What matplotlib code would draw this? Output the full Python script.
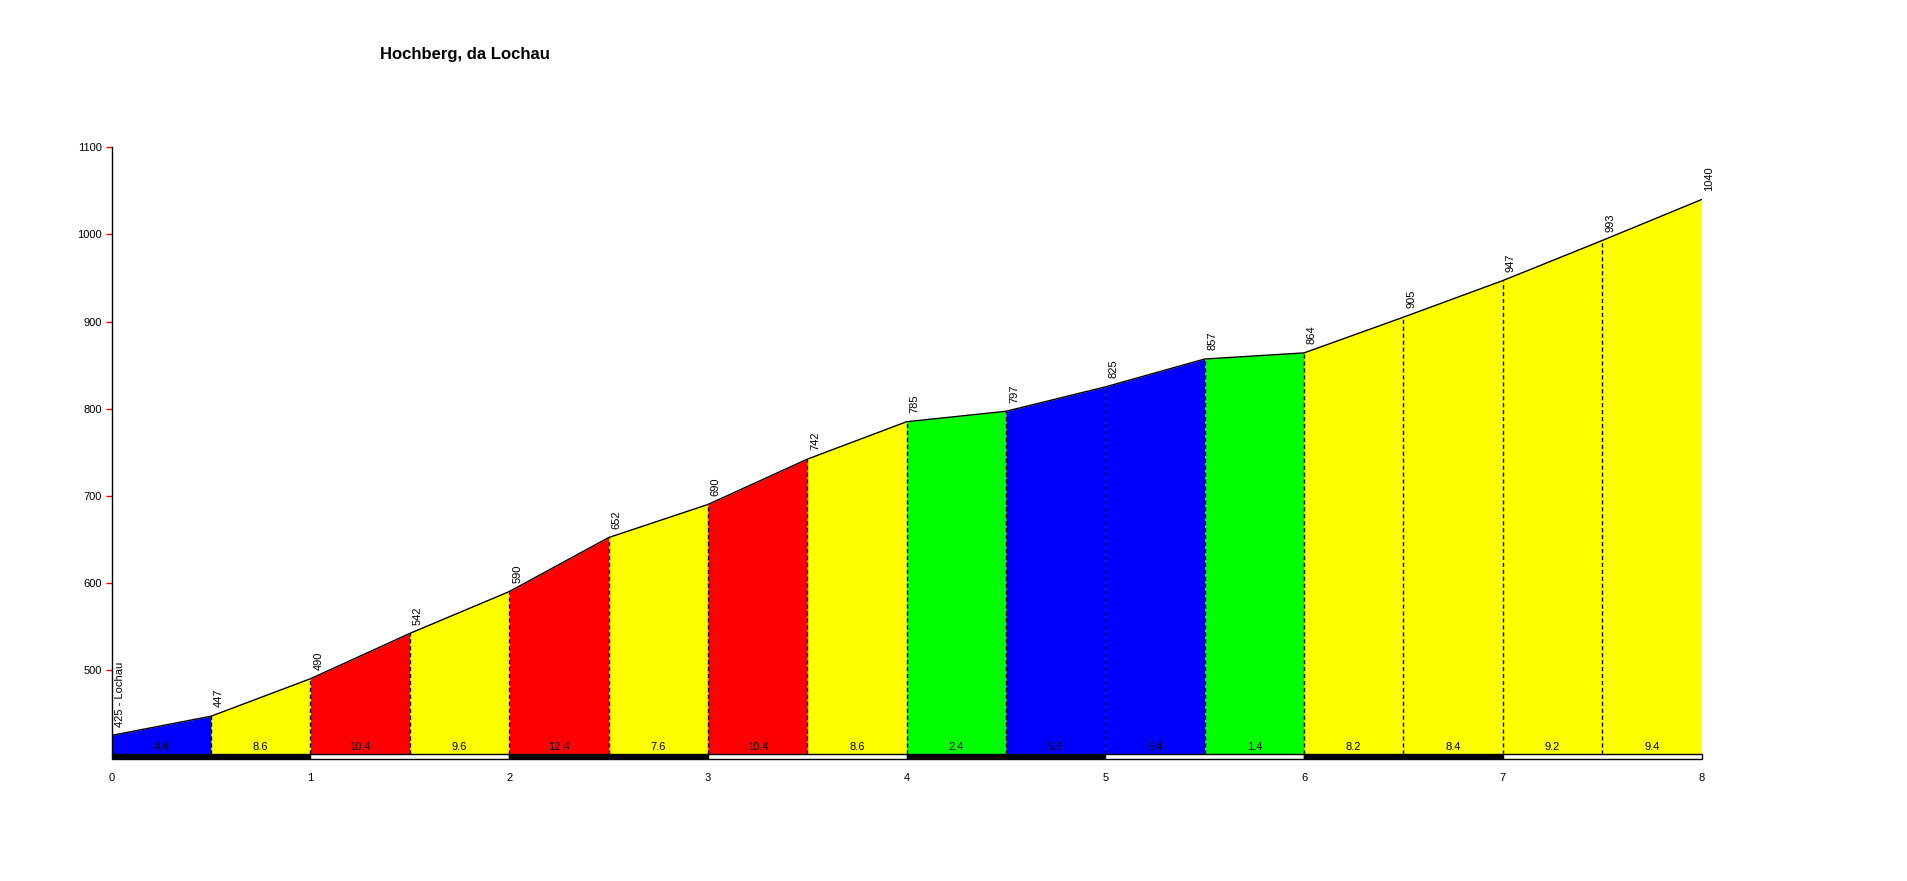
import numpy as np
import matplotlib.pyplot as plt
from matplotlib.patches import Rectangle

plt.rcParams['font.family'] = ['Liberation Sans', 'DejaVu Sans']

# dati del profilo
title = 'Hochberg, da Lochau'
km = [0, 0.5, 1, 1.5, 2, 2.5, 3, 3.5, 4, 4.5, 5, 5.5, 6, 6.5, 7, 7.5, 8]
quote = [425, 447, 490, 542, 590, 652, 690, 742, 785, 797, 825, 857, 864, 905, 947, 993, 1040]
pendenze = [4.4, 8.6, 10.4, 9.6, 12.4, 7.6, 10.4, 8.6, 2.4, 5.6, 6.4, 1.4, 8.2, 8.4, 9.2, 9.4]
colori = ['#0000ff', '#ffff00', '#ff0000', '#ffff00', '#ff0000', '#ffff00', '#ff0000', '#ffff00',
          '#00ff00', '#0000ff', '#0000ff', '#00ff00', '#ffff00', '#ffff00', '#ffff00', '#ffff00']
partenza = 'Lochau'

W, H = 1908, 881
fig = plt.figure(figsize=(W / 100, H / 100), dpi=100)
# axes in pixel: x 111.7 -> 1701.5, y 147.3 (1100) -> 760.2 (396.5)
ax = fig.add_axes([111.7 / W, 1 - 760.2 / H, (1701.5 - 111.7) / W, (760.2 - 147.3) / H])
base = 403.2
ax.set_xlim(0, 8)
ax.set_ylim(396.5, 1100)

for i in range(len(pendenze)):
    x0, x1 = km[i], km[i + 1]
    ax.fill_between([x0, x1], [quote[i], quote[i + 1]], base, color=colori[i], lw=0)
    ax.text((x0 + x1) / 2, base + 3, f'{pendenze[i]:.1f}', ha='center', va='bottom', fontsize=8)

# linee tratteggiate
for i in range(1, len(km) - 1):
    ax.plot([km[i], km[i]], [base, quote[i]], color='black', lw=1, ls=(0, (3, 2)))

ax.plot(km, quote, color='black', lw=1)

# etichette quote
for i, (x, q) in enumerate(zip(km, quote)):
    lab = f'{q} - {partenza}' if i == 0 else str(q)
    ax.text(x + 0.04, q + 10, lab, rotation=90, ha='center', va='bottom', fontsize=8)

# barra km
for k in range(8):
    ax.add_patch(Rectangle((k, 397.5), 1, base - 397.5, facecolor='black' if k % 2 == 0 else 'white',
                           edgecolor='black', lw=1, clip_on=False))

for s in ['top', 'right', 'bottom']:
    ax.spines[s].set_visible(False)
ax.spines['left'].set_bounds(base, 1100)
ax.spines['left'].set_linewidth(1)
ax.set_yticks(range(500, 1101, 100))
ax.tick_params(axis='y', colors='red', labelcolor='black', length=4, width=1, labelsize=8, pad=3)
ax.set_xticks(range(0, 9))
ax.tick_params(axis='x', length=0, labelsize=8, pad=9)

fig.text(465 / W, 1 - 54 / H, title, ha='center', va='center', fontsize=12, fontweight='bold')

fig.savefig('out.png', dpi=100)
